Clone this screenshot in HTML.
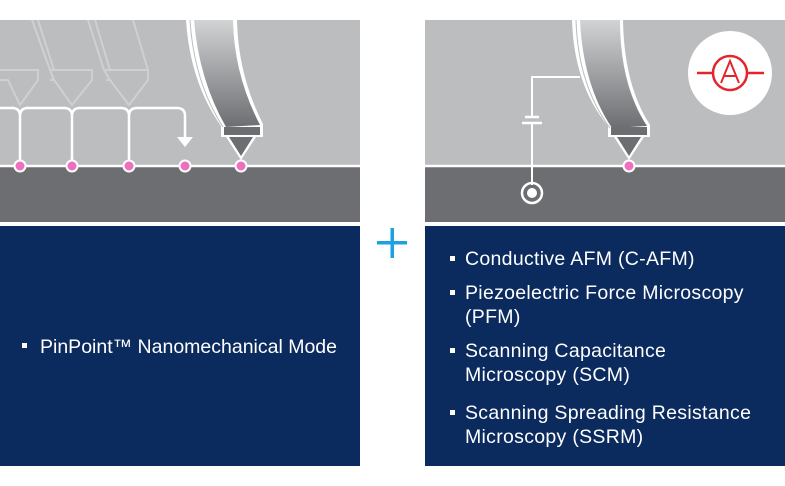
<!DOCTYPE html>
<html><head><meta charset="utf-8"><style>
html,body{margin:0;padding:0;background:#fff;}
svg{display:block}
text{font-family:"Liberation Sans",sans-serif;fill:#fff;font-size:19.5px;letter-spacing:0.3px}
</style></head><body>
<svg width="785" height="486" viewBox="0 0 785 486" xmlns="http://www.w3.org/2000/svg">
<defs>
<linearGradient id="g" x1="0" y1="0" x2="0" y2="1">
<stop offset="0" stop-color="#d2d3d5"/><stop offset="1" stop-color="#6d6e71"/>
</linearGradient>
</defs>
<rect x="0" y="20" width="360" height="147" fill="#bcbdbf"/>
<rect x="0" y="167" width="360" height="55" fill="#6d6e71"/>
<rect x="0" y="226" width="360" height="240" fill="#0b2a5e"/>
<line x1="0" y1="166" x2="360" y2="166" stroke="#fff" stroke-width="2.5"/>
<g fill="none" stroke="#cfd0d2" stroke-width="2">
<path d="M0,70 H38 V80 L20,105 L8,80 H0"/>
<path d="M32,20 L50,70 H92 V80 L72,105 L54,80 H50 M50,70 L54,80 M38,20 L54,70"/>
<path d="M88,20 L104,70 H148 V80 L129,105 L110,80 H106 M104,70 L110,80 M95,20 L110,70 M133,20 L148,70"/>
</g>
<path d="M0,108 H12 Q20,108 20,116 V166 M20,116 Q20,108 28,108 H64 Q72,108 72,116 V166 M72,116 Q72,108 80,108 H121 Q129,108 129,116 V166 M129,116 Q129,108 137,108 H177 Q185,108 185,116 V138" fill="none" stroke="#fff" stroke-width="2.5"/>
<polygon points="177,137 193,137 185,147" fill="#fff"/>
<path d="M186,20 Q190,82 221,126 L221,137 L263,137 L263,124 Q238,75 237,20 Z" fill="#fff"/>
<path d="M194,20 Q199,80 226,127 L260,125 Q234,75 233,20 Z" fill="url(#g)"/>
<path d="M190,20 Q194,82 223,127" fill="none" stroke="#bcbdbf" stroke-width="1"/>
<rect x="224" y="127" width="36" height="8" fill="#6d6e71"/>
<polygon points="226,137 256,137 241,160" fill="#fff"/>
<polygon points="229,137 253,137 241,156" fill="#6d6e71"/>
<g fill="#ef6fbf" stroke="#fff" stroke-width="2">
<circle cx="20" cy="166" r="5.5"/><circle cx="72" cy="166" r="5.5"/><circle cx="129" cy="166" r="5.5"/><circle cx="185" cy="166" r="5.5"/><circle cx="241" cy="166" r="5.5"/>
</g>
<rect x="22" y="343" width="5" height="5" fill="#fff"/>
<text x="40" y="353" style="letter-spacing:0">PinPoint™ Nanomechanical Mode</text>
<rect x="377" y="241" width="30" height="3.5" fill="#1da1e0"/>
<rect x="390.5" y="228" width="3.5" height="30" fill="#1da1e0"/>
<rect x="425" y="20" width="360" height="147" fill="#bcbdbf"/>
<rect x="425" y="167" width="360" height="55" fill="#6d6e71"/>
<rect x="425" y="226" width="360" height="240" fill="#0b2a5e"/>
<line x1="425" y1="166" x2="785" y2="166" stroke="#fff" stroke-width="2.5"/>
<path d="M580,77 H532 V117 M532,123 V185" fill="none" stroke="#fff" stroke-width="2"/>
<line x1="525" y1="117" x2="539" y2="117" stroke="#fff" stroke-width="2.5"/>
<line x1="522" y1="123" x2="542" y2="123" stroke="#fff" stroke-width="2.5"/>
<circle cx="532" cy="193" r="10" fill="none" stroke="#fff" stroke-width="2.5"/>
<circle cx="532" cy="193" r="5" fill="#fff"/>
<path d="M572,20 Q574,85 608,126 L608,137 L650,137 L650,125 Q624,85 623,20 Z" fill="#fff"/>
<path d="M580,20 Q583,85 612,128 L647,126 Q620,85 620,20 Z" fill="url(#g)"/>
<path d="M576,20 Q578,85 610,128" fill="none" stroke="#bcbdbf" stroke-width="1"/>
<rect x="611" y="127" width="36" height="8" fill="#6d6e71"/>
<polygon points="614,137 644,137 629,160" fill="#fff"/>
<polygon points="617,137 641,137 629,156" fill="#6d6e71"/>
<circle cx="629" cy="166" r="5.5" fill="#ef6fbf" stroke="#fff" stroke-width="2"/>
<circle cx="730" cy="73" r="42" fill="#fff"/>
<line x1="697" y1="73" x2="713" y2="73" stroke="#e3262b" stroke-width="2.5"/>
<line x1="747" y1="73" x2="764" y2="73" stroke="#e3262b" stroke-width="2.5"/>
<circle cx="730" cy="73" r="17" fill="none" stroke="#e3262b" stroke-width="2.5"/>
<path d="M721,83 L730,61 L739,83 M724,76 H736" fill="none" stroke="#e3262b" stroke-width="2"/>
<g fill="#fff">
<rect x="450" y="256" width="5" height="5"/><rect x="450" y="290" width="5" height="5"/><rect x="450" y="348" width="5" height="5"/><rect x="450" y="410" width="5" height="5"/>
</g>
<text x="465" y="265">Conductive AFM (C-AFM)</text>
<text x="465" y="299">Piezoelectric Force Microscopy</text>
<text x="465" y="323">(PFM)</text>
<text x="465" y="357">Scanning Capacitance</text>
<text x="465" y="381">Microscopy (SCM)</text>
<text x="465" y="419">Scanning Spreading Resistance</text>
<text x="465" y="443">Microscopy (SSRM)</text>
</svg>
</body></html>
